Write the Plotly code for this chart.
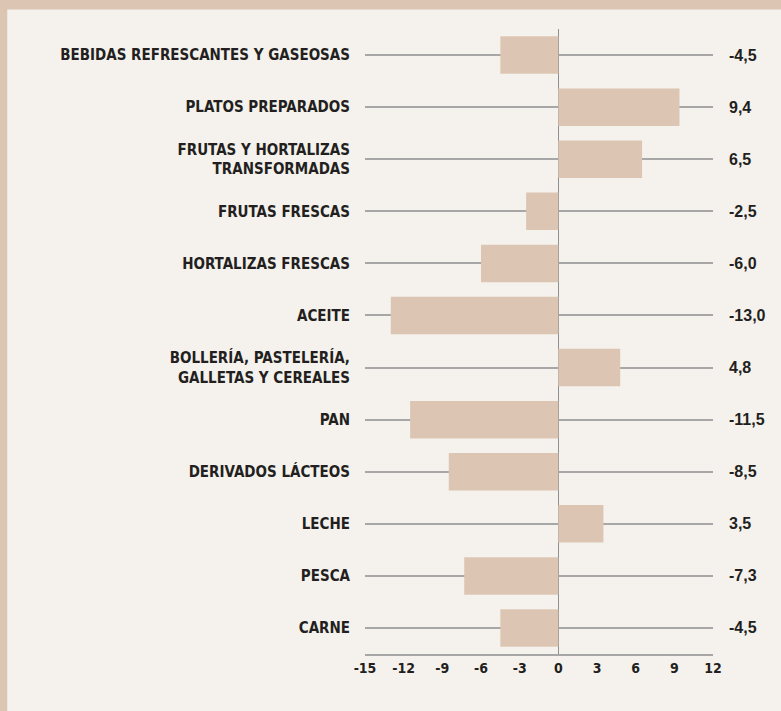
import plotly.graph_objects as go

categories = [
    "BEBIDAS REFRESCANTES Y GASEOSAS",
    "PLATOS PREPARADOS",
    "FRUTAS Y HORTALIZAS<br>TRANSFORMADAS",
    "FRUTAS FRESCAS",
    "HORTALIZAS FRESCAS",
    "ACEITE",
    "BOLLERÍA, PASTELERÍA,<br>GALLETAS Y CEREALES",
    "PAN",
    "DERIVADOS LÁCTEOS",
    "LECHE",
    "PESCA",
    "CARNE",
]
values = [-4.5, 9.4, 6.5, -2.5, -6.0, -13.0, 4.8, -11.5, -8.5, 3.5, -7.3, -4.5]
tick_vals = [-15, -12, -9, -6, -3, 0, 3, 6, 9, 12]

BG = "#f5f2ed"
BEIGE = "#dcc6b3"
TXT = "#231f20"
GRID = "#a7a7a7"
NARROW = "Liberation Sans Narrow, DejaVu Sans Condensed, Roboto Condensed, sans-serif"
WIDE = "Liberation Sans, Arial, sans-serif"

fig = go.Figure()
fig.add_trace(go.Bar(
    x=values, y=categories, orientation="h",
    marker=dict(color=BEIGE, line=dict(width=0)),
    width=0.72, hoverinfo="skip",
))

for c, v in zip(categories, values):
    fig.add_annotation(
        x=1, xref="paper", y=c, yref="y",
        text=f"{v:.1f}".replace(".", ","),
        showarrow=False, xanchor="left", xshift=14,
        font=dict(family=WIDE, size=16, color=TXT, weight="bold"),
    )

fig.update_layout(
    width=781, height=711,
    margin=dict(l=365, r=68, t=29, b=57),
    paper_bgcolor=BG, plot_bgcolor=BG,
    showlegend=False,
    xaxis=dict(
        range=[-15, 12], tickvals=tick_vals, ticktext=[str(t) for t in tick_vals],
        showgrid=False, zeroline=True, zerolinecolor="#8f8f8f", zerolinewidth=1,
        showline=True, linecolor=GRID, linewidth=2, ticks="",
        tickfont=dict(family=NARROW, size=14, color=TXT, weight="bold"),
        fixedrange=True,
    ),
    yaxis=dict(
        categoryorder="array", categoryarray=categories, autorange="reversed",
        showgrid=True, gridcolor=GRID, gridwidth=1.5, ticks="",
        ticklabelstandoff=14,
        tickfont=dict(family=NARROW, size=15, color=TXT, weight="bold"),
        fixedrange=True,
    ),
    shapes=[
        dict(type="rect", xref="paper", yref="paper", x0=-2, x1=2, y0=1.0314, y1=1.2,
             fillcolor=BEIGE, line=dict(width=0), layer="below"),
        dict(type="rect", xref="paper", yref="paper", x0=-1.049, x1=-1.028, y0=-0.2, y1=1.2,
             fillcolor=BEIGE, line=dict(width=0), layer="below"),
    ],
)

fig.write_html(
    "out.html",
    config={"displayModeBar": False},
    post_script="document.body.style.margin='0';document.body.style.padding='0';",
)
